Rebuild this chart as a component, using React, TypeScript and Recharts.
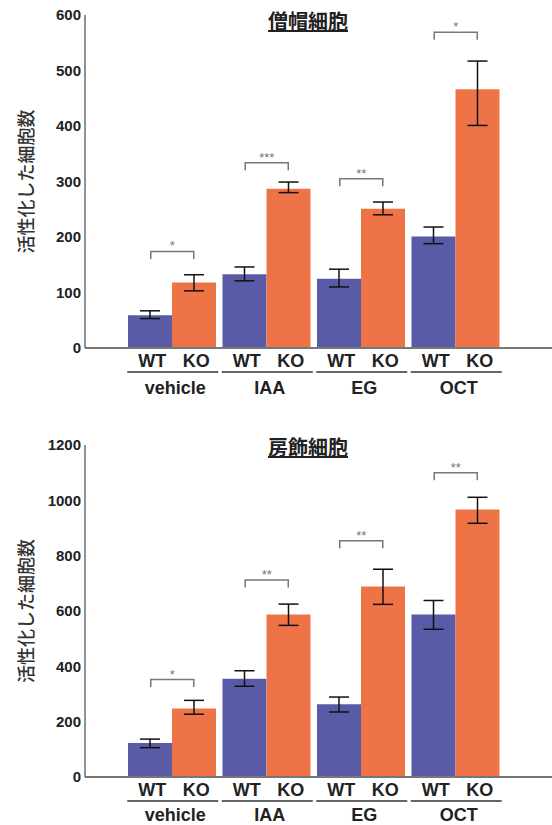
import React from 'react';
import { ComposedChart, Bar, ErrorBar, Scatter, XAxis, YAxis, Label } from 'recharts';

const groups = ['vehicle', 'IAA', 'EG', 'OCT'];
const subLabels = ['WT', 'KO'];

// 僧帽細胞
const mitralWT = [59, 133, 125, 201];
const mitralWTLow = [53, 121, 110, 188];
const mitralWTHigh = [67, 146, 142, 218];
const mitralKO = [118, 287, 251, 466];
const mitralKOLow = [103, 280, 240, 401];
const mitralKOHigh = [132, 299, 263, 517];
const mitralSig = [174, 334, 305, 569];
const mitralStars = ['*', '***', '**', '*'];
const mitralTicks = [0, 100, 200, 300, 400, 500, 600];

// 房飾細胞
const tuftedWT = [123, 355, 263, 587];
const tuftedWTLow = [106, 328, 235, 534];
const tuftedWTHigh = [137, 384, 289, 638];
const tuftedKO = [248, 587, 689, 967];
const tuftedKOLow = [227, 548, 624, 917];
const tuftedKOHigh = [277, 625, 751, 1011];
const tuftedSig = [352, 712, 854, 1100];
const tuftedStars = ['*', '**', '**', '**'];
const tuftedTicks = [0, 200, 400, 600, 800, 1000, 1200];

const WT_COLOR = '#5a5ba7';
const KO_COLOR = '#ee7448';
const LATIN = '"Liberation Sans", Arial, Helvetica, sans-serif';
const CJK = '"Noto Sans CJK JP", sans-serif';

const buildRows = (
    wt: number[], wtLow: number[], wtHigh: number[],
    ko: number[], koLow: number[], koHigh: number[],
    sig: number[], stars: string[]
) =>
    groups.map((group, i) => ({
        group,
        wt: wt[i],
        wtErr: [wt[i] - wtLow[i], wtHigh[i] - wt[i]],
        ko: ko[i],
        koErr: [ko[i] - koLow[i], koHigh[i] - ko[i]],
        sig: sig[i],
        stars: stars[i],
    }));

const mitralRows = buildRows(mitralWT, mitralWTLow, mitralWTHigh, mitralKO, mitralKOLow, mitralKOHigh, mitralSig, mitralStars);
const tuftedRows = buildRows(tuftedWT, tuftedWTLow, tuftedWTHigh, tuftedKO, tuftedKOLow, tuftedKOHigh, tuftedSig, tuftedStars);

// WT / KO under each bar, a rule, then the treatment name
const GroupTick = (props: any) => {
    const { x, y, payload, nameOffset = 46 } = props;
    return (
        <g>
            <text x={x - 20} y={y + 19} textAnchor="middle" fontFamily={LATIN} fontWeight="bold" fontSize={18} fill="#222">
                {subLabels[0]}
            </text>
            <text x={x + 24} y={y + 19} textAnchor="middle" fontFamily={LATIN} fontWeight="bold" fontSize={18} fill="#222">
                {subLabels[1]}
            </text>
            <line x1={x - 45} x2={x + 46} y1={y + 24} y2={y + 24} stroke="#666" strokeWidth={2} />
            <text x={x + 3} y={y + nameOffset} textAnchor="middle" fontFamily={LATIN} fontWeight="bold" fontSize={18} fill="#222">
                {payload.value}
            </text>
        </g>
    );
};

// significance bracket between WT and KO bars
const Bracket = (props: any) => {
    const { cx, cy, payload } = props;
    if (cx == null || cy == null) return null;
    return (
        <g>
            <path
                d={`M${cx - 21.5},${cy + 7.5} V${cy} H${cx + 21.5} V${cy + 7.5}`}
                fill="none"
                stroke="#777"
                strokeWidth={1.5}
            />
            <text x={cx} y={cy - 1} textAnchor="middle" fontFamily={LATIN} fontSize={13} fill="#777">
                {payload.stars}
            </text>
        </g>
    );
};

const YTitle = (props: any) => {
    const vb = props.viewBox || {};
    const cy = (vb.y || 0) + (vb.height || 0) / 2;
    return (
        <text
            x={25}
            y={cy}
            transform={`rotate(-90 25 ${cy})`}
            textAnchor="middle"
            dominantBaseline="central"
            fontFamily={CJK}
            fontWeight={500}
            fontSize={18}
            fill="#333"
        >
            活性化した細胞数
        </text>
    );
};

interface PanelProps {
    title: string;
    rows: any[];
    ticks: number[];
    height: number;
    top: number;
    xAxisHeight: number;
    titleTop: number;
    nameOffset: number;
}

const Panel: React.FC<PanelProps> = ({ title, rows, ticks, height, top, xAxisHeight, titleTop, nameOffset }) => {
    return (
        <div style={{ position: 'relative', width: 552, height }}>
            <ComposedChart width={552} height={height} data={rows} margin={{ top, right: 0, bottom: 0, left: 0 }} barGap={0}>
                <XAxis
                    dataKey="group"
                    height={xAxisHeight}
                    padding={{ left: 40, right: 49 }}
                    tickLine={false}
                    tickSize={0}
                    tickMargin={0}
                    interval={0}
                    tick={<GroupTick nameOffset={nameOffset} />}
                    axisLine={{ stroke: '#777', strokeWidth: 2 }}
                />
                <YAxis
                    width={85}
                    domain={[0, ticks[ticks.length - 1]]}
                    ticks={ticks}
                    interval={0}
                    tickLine={false}
                    tickSize={0}
                    tickMargin={4}
                    axisLine={{ stroke: '#6e6e6e', strokeWidth: 1.5 }}
                    tick={{ fontFamily: LATIN, fontWeight: 'bold', fontSize: 15, fill: '#222' }}
                >
                    <Label content={<YTitle />} />
                </YAxis>
                <Bar dataKey="wt" fill={WT_COLOR} barSize={44} isAnimationActive={false}>
                    <ErrorBar dataKey="wtErr" width={10} stroke="#111" strokeWidth={1.5} />
                </Bar>
                <Bar dataKey="ko" fill={KO_COLOR} barSize={44} isAnimationActive={false}>
                    <ErrorBar dataKey="koErr" width={10} stroke="#111" strokeWidth={1.5} />
                </Bar>
                <Scatter dataKey="sig" shape={<Bracket />} isAnimationActive={false} />
            </ComposedChart>
            <div
                style={{
                    position: 'absolute',
                    left: 208,
                    width: 200,
                    top: titleTop,
                    textAlign: 'center',
                    fontFamily: CJK,
                    fontWeight: 'bold',
                    fontSize: 20,
                    lineHeight: '24px',
                    color: '#222',
                    textDecoration: 'underline',
                }}
            >
                {title}
            </div>
        </div>
    );
};

export default function App() {
    return (
        <div style={{ width: 552, height: 825, background: '#fff' }}>
            <style>{'body { margin: 0; }'}</style>
            <Panel title="僧帽細胞" rows={mitralRows} ticks={mitralTicks} height={410} top={15} xAxisHeight={62} titleTop={9} nameOffset={46} />
            <Panel title="房飾細胞" rows={tuftedRows} ticks={tuftedTicks} height={415} top={35} xAxisHeight={48} titleTop={25} nameOffset={44} />
        </div>
    );
}
